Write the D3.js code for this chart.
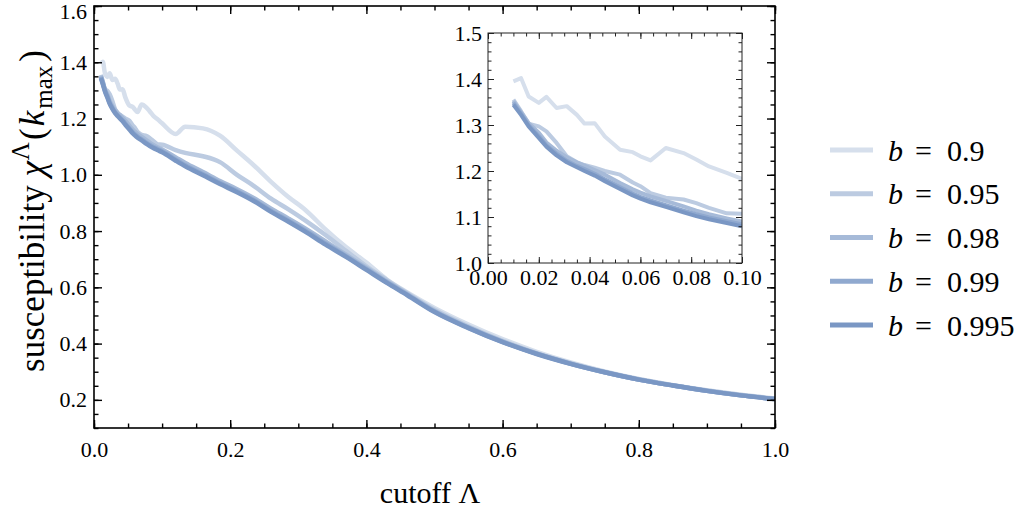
<!DOCTYPE html>
<html>
<head>
<meta charset="utf-8">
<script src="https://cdn.jsdelivr.net/npm/d3@7"></script>
<style>
  body { margin: 0; background: #fff; }
  svg text { font-family: "Liberation Serif", "Times New Roman", serif; fill: #000; }
  .axis path.domain { display: none; }
  .axis line { stroke: #000; }
  .inset .axis line { stroke: #222; }
</style>
</head>
<body>
<div id="chart"></div>
<script>
// cutoff values (shared by all series)
const lambda = [0.01, 0.013, 0.016, 0.02, 0.023, 0.027, 0.031, 0.035, 0.038, 0.042,
  0.046, 0.052, 0.057, 0.06, 0.064, 0.07, 0.077, 0.082, 0.087, 0.094,
  0.1, 0.12, 0.134, 0.16, 0.185, 0.21, 0.235, 0.26, 0.285, 0.31,
  0.34, 0.37, 0.4, 0.43, 0.46, 0.5, 0.55, 0.6, 0.65, 0.7,
  0.75, 0.8, 0.85, 0.9, 0.95, 1.0];

// susceptibility chi(k_max) per b
const chi090 = [1.395, 1.402, 1.362, 1.348, 1.361, 1.337, 1.341, 1.322, 1.303, 1.304,
  1.275, 1.246, 1.241, 1.232, 1.223, 1.250, 1.239, 1.225, 1.210, 1.196,
  1.183, 1.145, 1.171, 1.165, 1.139, 1.086, 1.033, 0.975, 0.922, 0.876,
  0.806, 0.743, 0.688, 0.628, 0.582, 0.527, 0.468, 0.416, 0.371, 0.333,
  0.301, 0.274, 0.252, 0.234, 0.218, 0.205];
const chi095 = [1.355, 1.330, 1.303, 1.297, 1.286, 1.261, 1.232, 1.219, 1.213, 1.207,
  1.200, 1.192, 1.175, 1.167, 1.152, 1.142, 1.138, 1.130, 1.120, 1.108,
  1.107, 1.088, 1.078, 1.066, 1.045, 1.000, 0.960, 0.915, 0.878, 0.838,
  0.786, 0.730, 0.675, 0.626, 0.579, 0.520, 0.461, 0.410, 0.366, 0.330,
  0.299, 0.273, 0.252, 0.233, 0.217, 0.204];
const chi098 = [1.352, 1.328, 1.304, 1.283, 1.262, 1.244, 1.230, 1.219, 1.212, 1.202,
  1.192, 1.174, 1.160, 1.153, 1.145, 1.135, 1.123, 1.114, 1.106, 1.097,
  1.090, 1.062, 1.042, 1.010, 0.978, 0.949, 0.917, 0.880, 0.845, 0.809,
  0.763, 0.716, 0.669, 0.621, 0.576, 0.516, 0.458, 0.407, 0.364, 0.329,
  0.298, 0.272, 0.251, 0.232, 0.216, 0.203];
const chi099 = [1.348, 1.325, 1.300, 1.276, 1.256, 1.238, 1.222, 1.211, 1.204, 1.194,
  1.182, 1.165, 1.151, 1.144, 1.136, 1.126, 1.114, 1.106, 1.099, 1.091,
  1.084, 1.054, 1.034, 1.002, 0.971, 0.942, 0.910, 0.872, 0.838, 0.802,
  0.756, 0.711, 0.665, 0.618, 0.574, 0.514, 0.456, 0.406, 0.364, 0.328,
  0.298, 0.272, 0.251, 0.232, 0.216, 0.203];
const chi0995 = [1.344, 1.322, 1.297, 1.272, 1.253, 1.234, 1.219, 1.208, 1.200, 1.190,
  1.178, 1.161, 1.147, 1.140, 1.132, 1.122, 1.110, 1.102, 1.095, 1.087,
  1.080, 1.050, 1.030, 0.998, 0.967, 0.938, 0.906, 0.868, 0.834, 0.798,
  0.752, 0.708, 0.662, 0.616, 0.572, 0.512, 0.455, 0.405, 0.363, 0.328,
  0.298, 0.272, 0.251, 0.232, 0.216, 0.203];

const bLabels = ['0.9', '0.95', '0.98', '0.99', '0.995'];
const seriesValues = [chi090, chi095, chi098, chi099, chi0995];

// tick labels
const mainXTicks = [0, 0.2, 0.4, 0.6, 0.8, 1.0];
const mainYTicks = [0.2, 0.4, 0.6, 0.8, 1.0, 1.2, 1.4, 1.6];
const insetXTicks = [0, 0.02, 0.04, 0.06, 0.08, 0.1];
const insetYTicks = [1.0, 1.1, 1.2, 1.3, 1.4, 1.5];

class SusceptibilityPlot {

  constructor(_config, _data) {
    this.config = {
      parentElement: _config.parentElement,
      containerWidth: 1021,
      containerHeight: 513,
      margin: {top: 6, left: 94},
      width: 681,
      height: 422,
      inset: {left: 488, top: 33, width: 254, height: 230},
      colors: ['#d6dfec', '#bccbe1', '#a6bad8', '#90a9cf', '#7a97c4'],
      legendLeft: 830,
      legendTop: 150,
      legendStep: 43.75
    };
    this.data = _data;
    this.initVis();
  }

  initVis() {
    let vis = this;
    const c = vis.config;

    vis.svg = d3.select(c.parentElement).append('svg')
        .attr('width', c.containerWidth)
        .attr('height', c.containerHeight);

    const defs = vis.svg.append('defs');
    defs.append('clipPath').attr('id', 'clip-main').append('rect')
        .attr('width', c.width).attr('height', c.height);
    defs.append('clipPath').attr('id', 'clip-inset').append('rect')
        .attr('width', c.inset.width).attr('height', c.inset.height);

    vis.chart = vis.svg.append('g')
        .attr('transform', `translate(${c.margin.left},${c.margin.top})`);

    vis.xScale = d3.scaleLinear().domain([0, 1]).range([0, c.width]);
    vis.yScale = d3.scaleLinear().domain([0.1, 1.6]).range([c.height, 0]);

    vis.insetG = vis.svg.append('g')
        .attr('class', 'inset')
        .attr('transform', `translate(${c.inset.left},${c.inset.top})`);
    vis.xInset = d3.scaleLinear().domain([0, 0.1]).range([0, c.inset.width]);
    vis.yInset = d3.scaleLinear().domain([1.0, 1.5]).range([c.inset.height, 0]);

    vis.renderVis();
  }

  // frame with inward ticks on all four sides
  drawFrame(g, x, y, w, h, opts) {
    const major = opts.major, minor = opts.minor;
    const addAxis = (axis, tr, vals, size, fmt, pad) => {
      return g.append('g').attr('class', 'axis')
          .attr('transform', tr)
          .call(axis.tickValues(vals).tickSizeInner(-size).tickSizeOuter(0)
            .tickPadding(pad).tickFormat(fmt))
          .call(s => s.selectAll('line').attr('stroke-width', opts.tickWidth))
          .call(s => s.selectAll('text').attr('font-size', opts.fontSize));
    };
    const none = () => '';
    // minor
    addAxis(d3.axisBottom(x), `translate(0,${h})`, opts.xMinor, minor, none, 0);
    addAxis(d3.axisTop(x), 'translate(0,0)', opts.xMinor, minor, none, 0);
    addAxis(d3.axisLeft(y), 'translate(0,0)', opts.yMinor, minor, none, 0);
    addAxis(d3.axisRight(y), `translate(${w},0)`, opts.yMinor, minor, none, 0);
    // major
    addAxis(d3.axisBottom(x), `translate(0,${h})`, opts.xTicks, major, opts.xFmt, opts.xPad);
    addAxis(d3.axisTop(x), 'translate(0,0)', opts.xTicks, major, none, 0);
    const yAx = addAxis(d3.axisLeft(y), 'translate(0,0)', opts.yTicks, major, opts.yFmt, opts.yPad);
    addAxis(d3.axisRight(y), `translate(${w},0)`, opts.yTicks, major, none, 0);

    // keep the top label inside the picture
    if (opts.nudgeTop) {
      yAx.selectAll('.tick text')
          .filter(d => d === opts.yTicks[opts.yTicks.length - 1])
          .attr('y', opts.nudgeTop);
    }

    g.append('rect')
        .attr('width', w).attr('height', h)
        .attr('fill', 'none')
        .attr('stroke', opts.frameColor)
        .attr('stroke-width', opts.frameWidth);
  }

  renderVis() {
    let vis = this;
    const c = vis.config;

    // main curves
    const mainLine = d3.line()
        .x(d => vis.xScale(d[0]))
        .y(d => vis.yScale(d[1]))
        .curve(d3.curveMonotoneX);

    vis.chart.append('g')
        .attr('clip-path', 'url(#clip-main)')
      .selectAll('.curve')
        .data(vis.data)
      .join('path')
        .attr('class', 'curve')
        .attr('fill', 'none')
        .attr('stroke', (d, i) => c.colors[i])
        .attr('stroke-width', 4.5)
        .attr('stroke-linejoin', 'round')
        .attr('d', d => mainLine(d.points));

    vis.drawFrame(vis.chart, vis.xScale, vis.yScale, c.width, c.height, {
      major: 8, minor: 4.5, tickWidth: 1.4, fontSize: 22,
      xTicks: mainXTicks, yTicks: mainYTicks,
      xMinor: d3.range(0, 1.0001, 0.05), yMinor: d3.range(0.1, 1.6001, 0.05),
      xFmt: d3.format('.1f'), yFmt: d3.format('.1f'),
      xPad: 13, yPad: 7, frameColor: '#000', frameWidth: 1.6, nudgeTop: 5
    });

    // inset
    vis.insetG.append('rect')
        .attr('width', c.inset.width).attr('height', c.inset.height)
        .attr('fill', '#fff');

    const insetLine = d3.line()
        .x(d => vis.xInset(d[0]))
        .y(d => vis.yInset(d[1]));

    vis.insetG.append('g')
        .attr('clip-path', 'url(#clip-inset)')
      .selectAll('.curve')
        .data(vis.data)
      .join('path')
        .attr('class', 'curve')
        .attr('fill', 'none')
        .attr('stroke', (d, i) => c.colors[i])
        .attr('stroke-width', 4)
        .attr('stroke-linejoin', 'round')
        .attr('d', d => insetLine(d.points.filter(p => p[0] <= 0.1)));

    vis.drawFrame(vis.insetG, vis.xInset, vis.yInset, c.inset.width, c.inset.height, {
      major: 6, minor: 3.5, tickWidth: 1, fontSize: 22,
      xTicks: insetXTicks, yTicks: insetYTicks,
      xMinor: d3.range(0, 0.10001, 0.005), yMinor: d3.range(1.0, 1.5001, 0.02),
      xFmt: d3.format('.2f'), yFmt: d3.format('.1f'),
      xPad: 6, yPad: 6, frameColor: '#222', frameWidth: 1
    });

    // axis titles
    vis.svg.append('text')
        .attr('x', 430)
        .attr('y', 503)
        .attr('text-anchor', 'middle')
        .attr('font-size', 30)
        .text('cutoff Λ');

    const yTitle = vis.svg.append('text')
        .attr('transform', 'translate(44,211) rotate(-90)')
        .attr('text-anchor', 'middle')
        .attr('font-size', 35);
    yTitle.append('tspan').text('susceptibility ');
    yTitle.append('tspan').attr('font-style', 'italic').text('χ');
    yTitle.append('tspan').attr('font-size', 25).attr('dy', -15).attr('dx', 1).text('Λ');
    yTitle.append('tspan').attr('dy', 15).attr('dx', 2).text('(');
    yTitle.append('tspan').attr('font-style', 'italic').attr('dx', 2).text('k');
    yTitle.append('tspan').attr('font-size', 25).attr('dy', 8).attr('dx', 2).text('max');
    yTitle.append('tspan').attr('dy', -8).attr('dx', 4).text(')');

    // legend
    const legend = vis.svg.append('g').attr('class', 'legend');
    const row = legend.selectAll('.legend-row')
        .data(vis.data)
      .join('g')
        .attr('class', 'legend-row')
        .attr('transform', (d, i) => `translate(${c.legendLeft},${c.legendTop + i * c.legendStep})`);
    row.append('line')
        .attr('x1', 0).attr('x2', 43)
        .attr('stroke', (d, i) => c.colors[i])
        .attr('stroke-width', 5);
    row.append('text')
        .attr('x', 58).attr('dy', '.35em')
        .attr('font-size', 30)
        .attr('font-style', 'italic')
        .text('b');
    row.append('text')
        .attr('x', 85).attr('dy', '.35em')
        .attr('font-size', 30)
        .text('=');
    row.append('text')
        .attr('x', 117).attr('dy', '.35em')
        .attr('font-size', 30)
        .text(d => d.b);
  }
}

const data = bLabels.map((b, i) => ({
  b: b,
  points: lambda.map((l, j) => [l, seriesValues[i][j]])
}));

new SusceptibilityPlot({parentElement: '#chart'}, data);
</script>
</body>
</html>
